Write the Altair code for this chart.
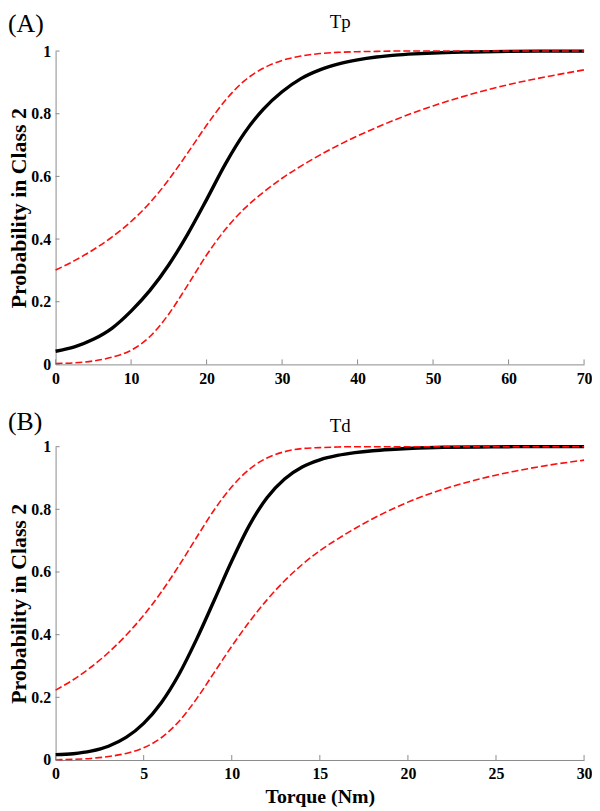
import altair as alt
import pandas as pd

# ---------------- Panel A : Tp ----------------
a_x = [0, 2.5, 5, 7.5, 10, 12.5, 15, 17.5, 20, 22.5, 25, 27.5, 30, 32.5, 35, 37.5,
       40, 42.5, 45, 47.5, 50, 55, 60, 65, 70]
a_fit = [0.042, 0.056, 0.080, 0.116, 0.170, 0.236, 0.318, 0.416, 0.526, 0.640, 0.738, 0.814,
         0.870, 0.912, 0.940, 0.959, 0.972, 0.981, 0.987, 0.991, 0.994, 0.997, 0.999, 1.0, 1.0]
a_upper = [0.301, 0.331, 0.366, 0.407, 0.456, 0.516, 0.590, 0.675, 0.763, 0.843, 0.905, 0.945,
           0.970, 0.984, 0.992, 0.996, 0.998, 0.999, 1.0, 1.0, 1.0, 1.0, 1.0, 1.0, 1.0]
a_lower = [0.003, 0.005, 0.011, 0.023, 0.045, 0.089, 0.161, 0.253, 0.349, 0.431, 0.497, 0.549,
           0.594, 0.633, 0.668, 0.700, 0.729, 0.756, 0.781, 0.804, 0.825, 0.862, 0.893, 0.918, 0.940]
a_xticks = [0, 10, 20, 30, 40, 50, 60, 70]

# ---------------- Panel B : Td ----------------
b_x = [0, 1, 2, 3, 4, 5, 6, 7, 8, 9, 10, 11, 12, 13, 14, 15, 16, 17, 18, 19, 20,
       22, 24, 26, 28, 30]
b_fit = [0.017, 0.020, 0.028, 0.044, 0.072, 0.117, 0.183, 0.273, 0.385, 0.509, 0.635, 0.749,
         0.837, 0.897, 0.935, 0.958, 0.972, 0.981, 0.987, 0.991, 0.994, 0.998, 0.999, 1.0, 1.0, 1.0]
b_upper = [0.223, 0.256, 0.296, 0.343, 0.398, 0.462, 0.536, 0.620, 0.710, 0.798, 0.872, 0.928,
           0.964, 0.984, 0.994, 0.997, 0.999, 1.0, 1.0, 1.0, 1.0, 1.0, 1.0, 1.0, 1.0, 1.0]
b_lower = [0.001, 0.002, 0.005, 0.011, 0.021, 0.039, 0.071, 0.123, 0.195, 0.279, 0.363, 0.441,
           0.511, 0.572, 0.624, 0.668, 0.705, 0.739, 0.770, 0.798, 0.823, 0.864, 0.896, 0.921,
           0.941, 0.957]
b_xticks = [0, 5, 10, 15, 20, 25, 30]

y_ticks = [0, 0.2, 0.4, 0.6, 0.8, 1]
titles = ["Tp", "Td"]
tags = ["(A)", "(B)"]
y_title = "Probability in Class 2"
x_title = "Torque (Nm)"

W, H = 533, 316
FONT = "Liberation Serif"
AXIS_GRAY = "#8a8a8a"


def panel(xs, fit, up, lo, title, tag, xmax, xticks, show_xtitle, tag_y, title_y):
    rows = []
    for name, ys in (("fit", fit), ("upper", up), ("lower", lo)):
        for x, y in zip(xs, ys):
            rows.append({"x": x, "y": y, "s": name})
    df = pd.DataFrame(rows)

    xscale = alt.Scale(domain=[0, xmax], nice=False, zero=False)
    yscale = alt.Scale(domain=[0, 1], nice=False)
    xaxis = alt.Axis(values=xticks, ticks=False, labelPadding=6, grid=False,
                     domainColor=AXIS_GRAY, labelFlush=False,
                     title=x_title if show_xtitle else "", titlePadding=5,
                     titleFontSize=20)
    yaxis = alt.Axis(values=y_ticks, format="~g", ticks=False, labelPadding=5, grid=False,
                     domainColor=AXIS_GRAY, title=y_title, titlePadding=0, labelFlush=False,
                     titleFontSize=22)

    X = alt.X("x:Q", scale=xscale, axis=xaxis)
    Y = alt.Y("y:Q", scale=yscale, axis=yaxis)

    base = alt.Chart(df)
    fit_line = base.transform_filter("datum.s == 'fit'").mark_line(
        color="black", strokeWidth=3.4, interpolate="monotone").encode(x=X, y=Y)
    ci_line = base.transform_filter("datum.s != 'fit'").mark_line(
        color="#ff0d0d", strokeWidth=1.6, strokeDash=[7, 3], interpolate="monotone").encode(
        x=X, y=Y, detail="s:N")

    xt = alt.Chart(pd.DataFrame({"t": xticks})).mark_rule(color=AXIS_GRAY, strokeWidth=1).encode(
        x=alt.X("t:Q", scale=xscale, axis=xaxis), y=alt.value(H), y2=alt.value(H - 5))
    yt = alt.Chart(pd.DataFrame({"t": y_ticks})).mark_rule(color=AXIS_GRAY, strokeWidth=1).encode(
        y=alt.Y("t:Q", scale=yscale, axis=yaxis), x=alt.value(0), x2=alt.value(4))

    tag_mark = alt.Chart(pd.DataFrame({"t": [tag]})).mark_text(
        font=FONT, fontSize=26, align="left", baseline="middle", color="black").encode(
        text="t:N", x=alt.value(-48), y=alt.value(tag_y))

    title_mark = alt.Chart(pd.DataFrame({"t": [title]})).mark_text(
        font=FONT, fontSize=19, align="center", baseline="middle", color="black").encode(
        text="t:N", x=alt.value(round(W * 0.538)), y=alt.value(title_y))

    return alt.layer(fit_line, ci_line, xt, yt, tag_mark, title_mark).properties(
        width=W, height=H)


pA = panel(a_x, a_fit, a_upper, a_lower, titles[0], tags[0], 70, a_xticks, False, -27, -29)
pB = panel(b_x, b_fit, b_upper, b_lower, titles[1], tags[1], 30, b_xticks, True, -25, -21)

chart = alt.vconcat(pA, pB, spacing=23).properties(padding=0).configure_view(
    stroke=None).configure_axis(
    labelFont=FONT, labelFontSize=16, labelFontWeight="bold", labelColor="black",
    titleFont=FONT, titleFontWeight="bold", titleColor="black",
    domainWidth=1)

chart.save("out.html", embed_options={"renderer": "svg", "actions": False})
